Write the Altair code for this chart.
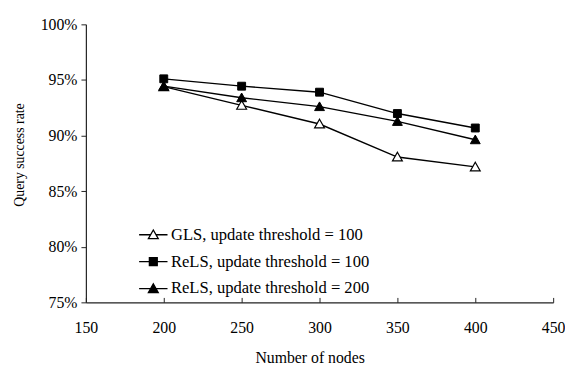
import altair as alt
import pandas as pd

nodes = [200, 250, 300, 350, 400]
series_names = [
    "GLS, update threshold = 100",
    "ReLS, update threshold = 100",
    "ReLS, update threshold = 200",
]
gls_100 = [94.4, 92.72, 91.04, 88.07, 87.18]
rels_100 = [95.1, 94.44, 93.9, 91.98, 90.68]
rels_200 = [94.44, 93.4, 92.6, 91.27, 89.62]
x_ticks = [150, 200, 250, 300, 350, 400, 450]
y_ticks = [0.75, 0.80, 0.85, 0.90, 0.95, 1.00]

FONT = "Liberation Serif"

rows = []
for name, vals in zip(series_names, [gls_100, rels_100, rels_200]):
    for n, v in zip(nodes, vals):
        rows.append({"series": name, "nodes": n, "rate": v / 100})
df = pd.DataFrame(rows)

tri = "M0,-1.2L1.25,1L-1.25,1Z"
sq = "M-1,-1H1V1H-1Z"
tri_leg = "M-3.6,0H-0.7M0.7,0H3.6M0,-1.2L1.25,1L-1.25,1Z"
tri_leg_f = "M-3.6,0H3.6M0,-1.2L1.25,1L-1.25,1Z"
sq_leg = "M-3.6,0H3.6M-1,-1H1V1H-1Z"

x_enc = alt.X(
    "nodes:Q",
    scale=alt.Scale(domain=[150, 450], nice=False, zero=False),
    axis=alt.Axis(
        values=x_ticks,
        title="Number of nodes",
        labelFlush=False,
        tickSize=alt.ExprRef(expr="-5"),
        labelPadding=22.5,
        titlePadding=15,
        titleFontSize=16,
        titleX=227,
        grid=False,
    ),
)
y_enc = alt.Y(
    "rate:Q",
    scale=alt.Scale(domain=[0.75, 1.0], nice=False, zero=False),
    axis=alt.Axis(
        values=y_ticks,
        format=".0%",
        title="Query success rate",
        tickSize=5,
        labelPadding=4,
        titlePadding=14,
        titleFontSize=14,
        titleY=132,
        grid=False,
    ),
)

base = alt.Chart(df).encode(x=x_enc, y=y_enc)

lines = base.mark_line(color="black", strokeWidth=1.4).encode(detail="series:N")

pts_gls = base.transform_filter(alt.datum.series == series_names[0]).mark_point(
    shape=tri, size=64, filled=True, fill="white", stroke="black", strokeWidth=1.2, opacity=1
)
pts_r100 = base.transform_filter(alt.datum.series == series_names[1]).mark_point(
    shape=sq, size=64, filled=True, fill="black", stroke="black", strokeWidth=1, opacity=1
)
pts_r200 = base.transform_filter(alt.datum.series == series_names[2]).mark_point(
    shape=tri, size=64, filled=True, fill="black", stroke="black", strokeWidth=1, opacity=1
)

leg = alt.Legend(
    title=None,
    orient="none",
    legendX=60,
    legendY=205,
    labelFont=FONT,
    labelFontSize=16.8,
    labelColor="black",
    labelLimit=0,
    labelOffset=9.5,
    rowPadding=9.3,
    padding=0,
    symbolSize=64,
    symbolStrokeWidth=1.3,
)
legend_layer = base.transform_filter("false").mark_point(
    size=64, filled=True, strokeWidth=1.3, opacity=1
).encode(
    shape=alt.Shape(
        "series:N",
        scale=alt.Scale(domain=series_names, range=[tri_leg, sq_leg, tri_leg_f]),
        legend=leg,
    ),
    fill=alt.Fill(
        "series:N",
        scale=alt.Scale(domain=series_names, range=["white", "black", "black"]),
        legend=leg,
    ),
    stroke=alt.Stroke(
        "series:N",
        scale=alt.Scale(domain=series_names, range=["black", "black", "black"]),
        legend=leg,
    ),
)

chart = (
    alt.layer(lines, pts_gls, pts_r200, pts_r100, legend_layer)
    .properties(width=474, height=282, padding={"left": 4, "top": 6, "right": 0, "bottom": 0})
    .configure_view(stroke=None)
    .configure_axis(
        labelFont=FONT,
        labelFontSize=16,
        labelColor="black",
        titleFont=FONT,
        titleFontWeight="normal",
        titleColor="black",
        domainColor="#222222",
        tickColor="#222222",
        domainWidth=1.2,
        tickWidth=1,
    )
)

chart.save("out.html", embed_options={"renderer": "svg", "actions": False})
